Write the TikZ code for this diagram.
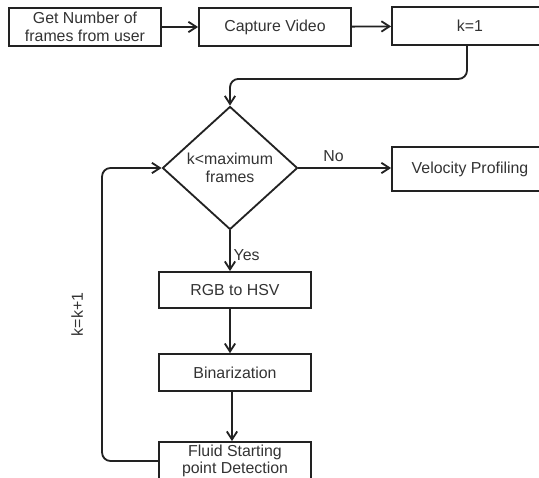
\documentclass[tikz,border=0pt]{standalone}
\usepackage{fontspec}
\setmainfont{Liberation Sans}
\usetikzlibrary{shapes.geometric,arrows.meta}

\definecolor{linegray}{HTML}{222222}
\definecolor{textgray}{HTML}{333333}

\tikzset{
  flowbox/.style={draw=linegray, line width=1.3pt, rectangle, minimum width=3.8cm,
    minimum height=0.95cm, inner sep=1pt, align=center, text=textgray,
    font=\fontsize{11.3}{12.5}\selectfont},
  decision/.style={draw=linegray, line width=1.3pt, diamond, aspect=1.1, inner sep=0pt,
    minimum width=3.375cm, minimum height=3.075cm, align=center, text=textgray,
    font=\fontsize{11.3}{12.5}\selectfont},
  flowline/.style={draw=linegray, line width=1.3pt, rounded corners=6pt},
  flowlabel/.style={text=textgray, font=\fontsize{11.3}{12.5}\selectfont, inner sep=1pt}
}

\begin{document}
\begin{tikzpicture}[x=0.025cm, y=-0.025cm, >={Straight Barb[length=2mm,width=2.6mm]}]

\useasboundingbox (0,0) rectangle (539,478);

\node[flowbox] (getn) at (85,27) {Get Number of\\frames from user};
\node[flowbox] (capture) at (275,27) {Capture Video};
\node[flowbox, minimum width=3.9cm] (init) at (470,26) {k=1};

\draw [flowline, ->] (getn) -- (capture);
\draw [flowline, ->] (capture) -- (init);

\node[decision] (check) at (230,168) {k<maximum\\frames};
\draw [flowline, ->] (init.south -| 467,0) -- ++(0,33) -| (check.north);

\node[flowbox, minimum width=3.9cm, minimum height=1.1cm] (velocity) at (470,169) {Velocity Profiling};
\draw [flowline, ->] (check.east) -- (check.east -| velocity.west)
  node[flowlabel, pos=0.38, above=3pt] {No};

% processing column
\node[flowbox, minimum height=0.9cm] (rgb) at (235,290) {RGB to HSV};
\node[flowbox, minimum height=0.92cm] (binar) at (235,372.5) {Binarization};
\node[flowbox] (fluid) at (235,461) {Fluid Starting\\point Detection};

\draw [flowline, ->] (check.south) -- (check.south |- rgb.north)
  node[flowlabel, pos=0.6, right=1pt] {Yes};
\draw [flowline, ->] (rgb.south -| 230,0) -- (binar.north -| 230,0);
\draw [flowline, ->] (binar.south -| 232,0) -- (fluid.north -| 232,0);

% loop back
\draw [flowline, ->] (fluid.west) -- ++(-56,0) |- (check.west)
  node[flowlabel, pos=0.25, rotate=90, above=12pt] {k=k+1};

\end{tikzpicture}
\end{document}
